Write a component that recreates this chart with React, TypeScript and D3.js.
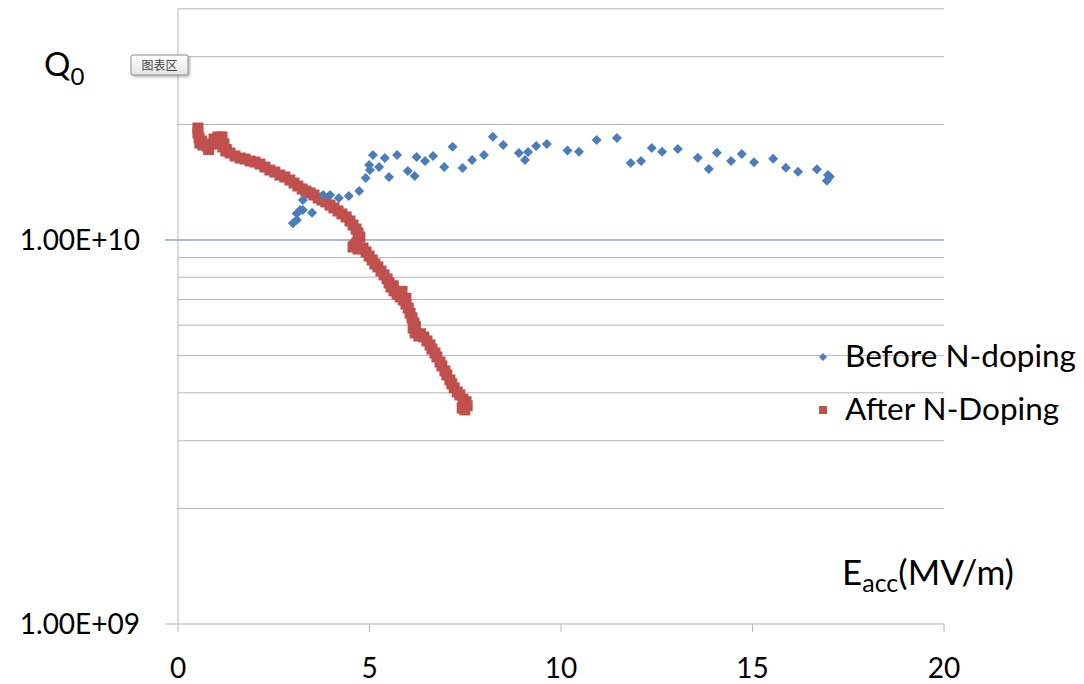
import React from "react";
import * as d3 from "d3";

// Before N-doping (blue diamonds)
const beforeE = [
  3.0, 3.1, 3.1, 3.19, 3.26, 3.5, 3.26, 3.79, 3.97, 4.2, 4.46, 4.73, 4.9, 5.01, 4.99, 5.09,
  5.25, 5.4, 5.51, 5.72, 6.0, 6.18, 6.23, 6.45, 6.66, 6.95, 7.17, 7.43, 7.68, 7.99, 8.22,
  8.49, 8.9, 9.06, 9.14, 9.35, 9.63, 10.17, 10.47, 10.93, 11.46, 11.82, 12.09, 12.37,
  12.64, 13.05, 13.57, 13.86, 14.07, 14.44, 14.72, 15.04, 15.54, 15.87, 16.19, 16.68,
  16.94, 17.02, 16.97,
];
const beforeQ = [
  1.105e10, 1.127e10, 1.173e10, 1.197e10, 1.197e10, 1.178e10, 1.271e10, 1.31e10, 1.31e10,
  1.286e10, 1.302e10, 1.342e10, 1.45e10, 1.521e10, 1.567e10, 1.665e10, 1.549e10, 1.636e10,
  1.459e10, 1.665e10, 1.512e10, 1.468e10, 1.645e10, 1.606e10, 1.655e10, 1.549e10, 1.75e10,
  1.54e10, 1.616e10, 1.665e10, 1.858e10, 1.767e10, 1.685e10, 1.616e10, 1.695e10, 1.757e10,
  1.778e10, 1.709e10, 1.698e10, 1.822e10, 1.844e10, 1.587e10, 1.606e10, 1.736e10, 1.698e10,
  1.726e10, 1.638e10, 1.531e10, 1.688e10, 1.606e10, 1.675e10, 1.593e10, 1.628e10, 1.542e10,
  1.506e10, 1.528e10, 1.427e10, 1.462e10, 1.476e10,
];

// After N-Doping (red squares)
const afterE = [
  0.52, 0.52, 0.55, 0.57, 0.65, 0.76, 0.86, 0.94, 1.04, 1.15, 1.12, 1.17, 1.25, 1.36, 1.49,
  1.62, 1.75, 1.88, 2.01, 2.14, 2.27, 2.4, 2.53, 2.66, 2.79, 2.92, 3.03, 3.13, 3.24, 3.34,
  3.45, 3.55, 3.66, 3.76, 3.86, 3.97, 4.07, 4.18, 4.28, 4.39, 4.49, 4.57, 4.65, 4.7, 4.75,
  4.67, 4.57, 4.7, 4.83, 4.91, 4.99, 5.07, 5.14, 5.22, 5.3, 5.38, 5.46, 5.51, 5.56, 5.64,
  5.72, 5.8, 5.88, 5.95, 6.01, 6.06, 6.11, 6.16, 6.14, 6.19, 6.29, 6.42, 6.5, 6.58, 6.63,
  6.71, 6.76, 6.84, 6.89, 6.97, 7.02, 7.1, 7.15, 7.21, 7.29, 7.36, 7.44, 7.52, 7.55, 7.49,
  7.42, 0.62, 0.8, 1.0, 1.2, 1.26, 4.62, 5.62, 5.85, 5.95, 6.2, 6.33,
];
const afterQ = [
  1.957e10, 1.899e10, 1.844e10, 1.789e10, 1.768e10, 1.757e10, 1.778e10, 1.832e10, 1.855e10,
  1.855e10, 1.8e10, 1.747e10, 1.705e10, 1.685e10, 1.655e10, 1.635e10, 1.625e10, 1.606e10,
  1.596e10, 1.577e10, 1.549e10, 1.521e10, 1.503e10, 1.476e10, 1.459e10, 1.433e10, 1.407e10,
  1.382e10, 1.358e10, 1.341e10, 1.326e10, 1.31e10, 1.286e10, 1.271e10, 1.256e10, 1.233e10,
  1.212e10, 1.19e10, 1.169e10, 1.148e10, 1.121e10, 1.094e10, 1.068e10, 1.043e10, 1.018e10,
  9.82e9, 9.59e9, 9.47e9, 9.53e9, 9.31e9, 9.08e9, 8.87e9, 8.66e9, 8.51e9, 8.3e9, 8.11e9,
  7.92e9, 7.73e9, 7.54e9, 7.37e9, 7.23e9, 7.11e9, 6.98e9, 6.81e9, 6.65e9, 6.45e9, 6.27e9,
  6.08e9, 5.9e9, 5.73e9, 5.62e9, 5.59e9, 5.46e9, 5.33e9, 5.2e9, 5.08e9, 4.96e9, 4.81e9,
  4.7e9, 4.56e9, 4.45e9, 4.32e9, 4.22e9, 4.12e9, 4.02e9, 3.95e9, 3.85e9, 3.79e9, 3.7e9,
  3.61e9, 3.65e9, 1.81e10, 1.72e10, 1.78e10, 1.78e10, 1.72e10, 9.7e9, 7.6e9, 7.35e9,
  7.05e9, 5.95e9, 5.7e9,
];

const xTicks = [0, 5, 10, 15, 20];
const yGrid = [2e9, 3e9, 4e9, 5e9, 6e9, 7e9, 8e9, 9e9, 2e10, 3e10, 4e10];
const yLabelTicks = [1e9, 1e10];
const yLabels = ["1.00E+09", "1.00E+10"];
const seriesNames = ["Before N-doping", "After N-Doping"];

const BLUE = "#4a7ebb";
const RED = "#c0504d";
const GRID = "#b5b5b5";
const FONT = "Lato, 'Open Sans', sans-serif";

export default function App() {
  const x = d3.scaleLinear().domain([0, 20]).range([178, 944]);
  const y = d3.scaleLog().domain([1e9, 4e10]).range([624, 8.8]);
  const [x0, x1] = x.range();

  const diamond = (s: number) => `M0,${-s}L${s},0L0,${s}L${-s},0Z`;
  const sq = 11;

  return (
    <svg
      width={1084}
      height={684}
      style={{ position: "absolute", left: 0, top: 0, background: "#fff" }}
      fontFamily={FONT}
    >
      <defs>
        <linearGradient id="tipg" x1="0" y1="0" x2="0" y2="1">
          <stop offset="0" stopColor="#ffffff" />
          <stop offset="1" stopColor="#e4e4e4" />
        </linearGradient>
        <filter id="tips" x="-20%" y="-30%" width="150%" height="180%">
          <feDropShadow dx="1.5" dy="1.5" stdDeviation="1" floodColor="#000" floodOpacity="0.3" />
        </filter>
      </defs>

      {/* gridlines */}
      {yGrid.map((v) => (
        <line key={v} x1={x0} x2={x1} y1={y(v)} y2={y(v)} stroke={GRID} strokeWidth={1} />
      ))}
      <line x1={165} x2={x1} y1={y(1e10)} y2={y(1e10)} stroke={BLUE} strokeWidth={1} />

      {/* axes */}
      <line x1={x0} x2={x0} y1={y(4e10)} y2={y(1e9)} stroke={GRID} />
      <line x1={165} x2={x1} y1={y(1e9)} y2={y(1e9)} stroke={GRID} />
      {xTicks.map((t) => (
        <g key={t}>
          <line x1={x(t)} x2={x(t)} y1={y(1e9)} y2={y(1e9) + 8} stroke={GRID} />
          <text x={x(t)} y={678} fontSize={28} textAnchor="middle" fill="#000">
            {t}
          </text>
        </g>
      ))}
      {yLabelTicks.map((t, i) => (
        <text key={t} x={140} y={y(t) + 10} fontSize={28} textAnchor="end" fill="#000">
          {yLabels[i]}
        </text>
      ))}

      {/* series */}
      {afterE.map((e, i) => (
        <rect
          key={"a" + i}
          x={x(e) - sq / 2}
          y={y(afterQ[i]) - sq / 2}
          width={sq}
          height={sq}
          fill={RED}
        />
      ))}
      {beforeE.map((e, i) => (
        <path
          key={"b" + i}
          d={diamond(5)}
          transform={`translate(${x(e)},${y(beforeQ[i])})`}
          fill={BLUE}
        />
      ))}

      {/* axis titles */}
      <text x={44} y={76} fontSize={33} fill="#000">
        Q<tspan fontSize={24} dy={9}>0</tspan>
      </text>
      <text x={842} y={585} fontSize={35} fill="#000">
        E<tspan fontSize={25} dy={7}>acc</tspan>
        <tspan dy={-7}>(MV/m)</tspan>
      </text>

      {/* legend */}
      <path d={diamond(4)} transform="translate(823,357)" fill={BLUE} />
      <text x={845} y={367} fontSize={31.5} fill="#000">
        {seriesNames[0]}
      </text>
      <rect x={819} y={406} width={8} height={8} fill={RED} />
      <text x={845} y={420} fontSize={31.5} fill="#000">
        {seriesNames[1]}
      </text>

      {/* chart-area tooltip */}
      <g filter="url(#tips)">
        <rect x={131} y={55} width={57} height={20} rx={2} fill="url(#tipg)" stroke="#8c8c8c" />
      </g>
      <text
        x={159.5}
        y={69.5}
        fontSize={12}
        textAnchor="middle"
        fill="#444"
        fontFamily="'Noto Sans CJK SC', sans-serif"
      >
        图表区
      </text>
    </svg>
  );
}
